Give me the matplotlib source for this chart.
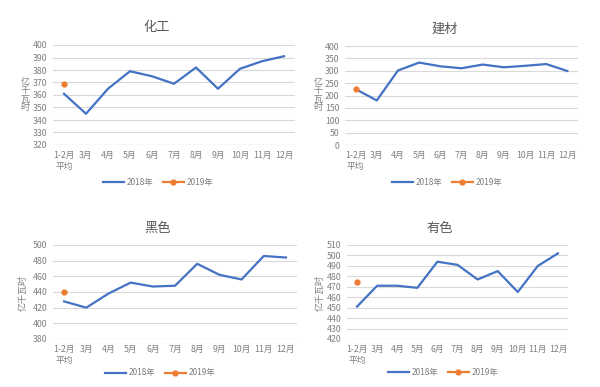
import matplotlib
matplotlib.use("Agg")
import matplotlib.pyplot as plt

plt.rcParams['font.family'] = ['Noto Sans CJK SC', 'DejaVu Sans']

BLUE = "#4472C4"
ORANGE = "#ED7D31"
GRID = "#D9D9D9"
TXT = "#7F7F7F"
TITLE = "#595959"

months = ["1-2月\n平均", "3月", "4月", "5月", "6月", "7月", "8月", "9月", "10月", "11月", "12月"]

huagong_2018 = [361, 345, 365, 379, 375, 369, 382, 365, 381, 387, 391]
huagong_2019 = [368.5]
jiancai_2018 = [226, 180, 301, 333, 318, 310, 325, 314, 320, 327, 299]
jiancai_2019 = [228]
heise_2018 = [428, 420, 438, 452, 447, 448, 476, 462, 456, 486, 484]
heise_2019 = [440]
youse_2018 = [451, 471, 471, 469, 494, 491, 477, 485, 465, 490, 502]
youse_2019 = [475]

W, H = 600, 387
fig = plt.figure(figsize=(6, 3.87), dpi=100, facecolor="white")


def px_axes(left, top, right, bottom):
    return fig.add_axes([left / W, 1 - bottom / H, (right - left) / W, (bottom - top) / H])


panels = [
    # title, data18, data19, axes box, ylim, yticks step, title pos, ylabel pos, stacked, legend pos
    ("化工", huagong_2018, huagong_2019, (53, 45, 295, 145), (320, 400), 10, (157, 27), (25, 95), True, (158, 182)),
    ("建材", jiancai_2018, jiancai_2019, (345, 46, 578, 145), (0, 400), 50, (445, 29), (318, 95), True, (447, 182)),
    ("黑色", heise_2018, heise_2019, (53, 245, 297, 339), (380, 500), 20, (158, 228), (23, 293), False, (160, 373)),
    ("有色", youse_2018, youse_2019, (347, 245, 568, 339), (420, 510), 10, (440, 228), (320, 293), False, (443, 372)),
]

for title, d18, d19, box, ylim, step, tpos, lpos, stacked, legpos in panels:
    ax = px_axes(*box)
    x = list(range(len(months)))
    l1, = ax.plot(x, d18, color=BLUE, lw=1.6, label="2018年")
    l2, = ax.plot(x[:len(d19)], d19, color=ORANGE, lw=1.6, marker="o", ms=3.5, label="2019年")
    ax.set_xlim(-0.5, len(months) - 0.5)
    ax.set_ylim(*ylim)
    ax.set_yticks(list(range(ylim[0], ylim[1] + 1, step)))
    ax.set_xticks(x)
    ax.set_xticklabels(months, linespacing=1.3, multialignment="center")
    ax.tick_params(axis="both", length=0, labelsize=6.3, colors=TXT, pad=4)
    ax.grid(axis="y", color=GRID, lw=0.8)
    ax.set_axisbelow(True)
    for s in ax.spines.values():
        s.set_visible(False)
    ax.axhline(ylim[0], color=GRID, lw=0.9, zorder=0)

    fig.text(tpos[0] / W, 1 - tpos[1] / H, title, ha="center", va="center",
             fontsize=9.5, color=TITLE)
    if stacked:
        fig.text(lpos[0] / W, 1 - lpos[1] / H, "亿\n千\n瓦\n时", ha="center", va="center",
                 fontsize=6.5, color=TXT, linespacing=0.95, multialignment="center")
    else:
        fig.text(lpos[0] / W, 1 - lpos[1] / H, "亿千瓦时", ha="center", va="center",
                 fontsize=6.5, color=TXT, rotation=90)

    fig.legend(handles=[l1, l2], loc="center", ncol=2, frameon=False, fontsize=6,
               bbox_to_anchor=(legpos[0] / W, 1 - legpos[1] / H),
               handlelength=2.5, columnspacing=1.2, handletextpad=0.3,
               labelcolor=TXT)

fig.savefig("out.png", dpi=100, facecolor="white")
